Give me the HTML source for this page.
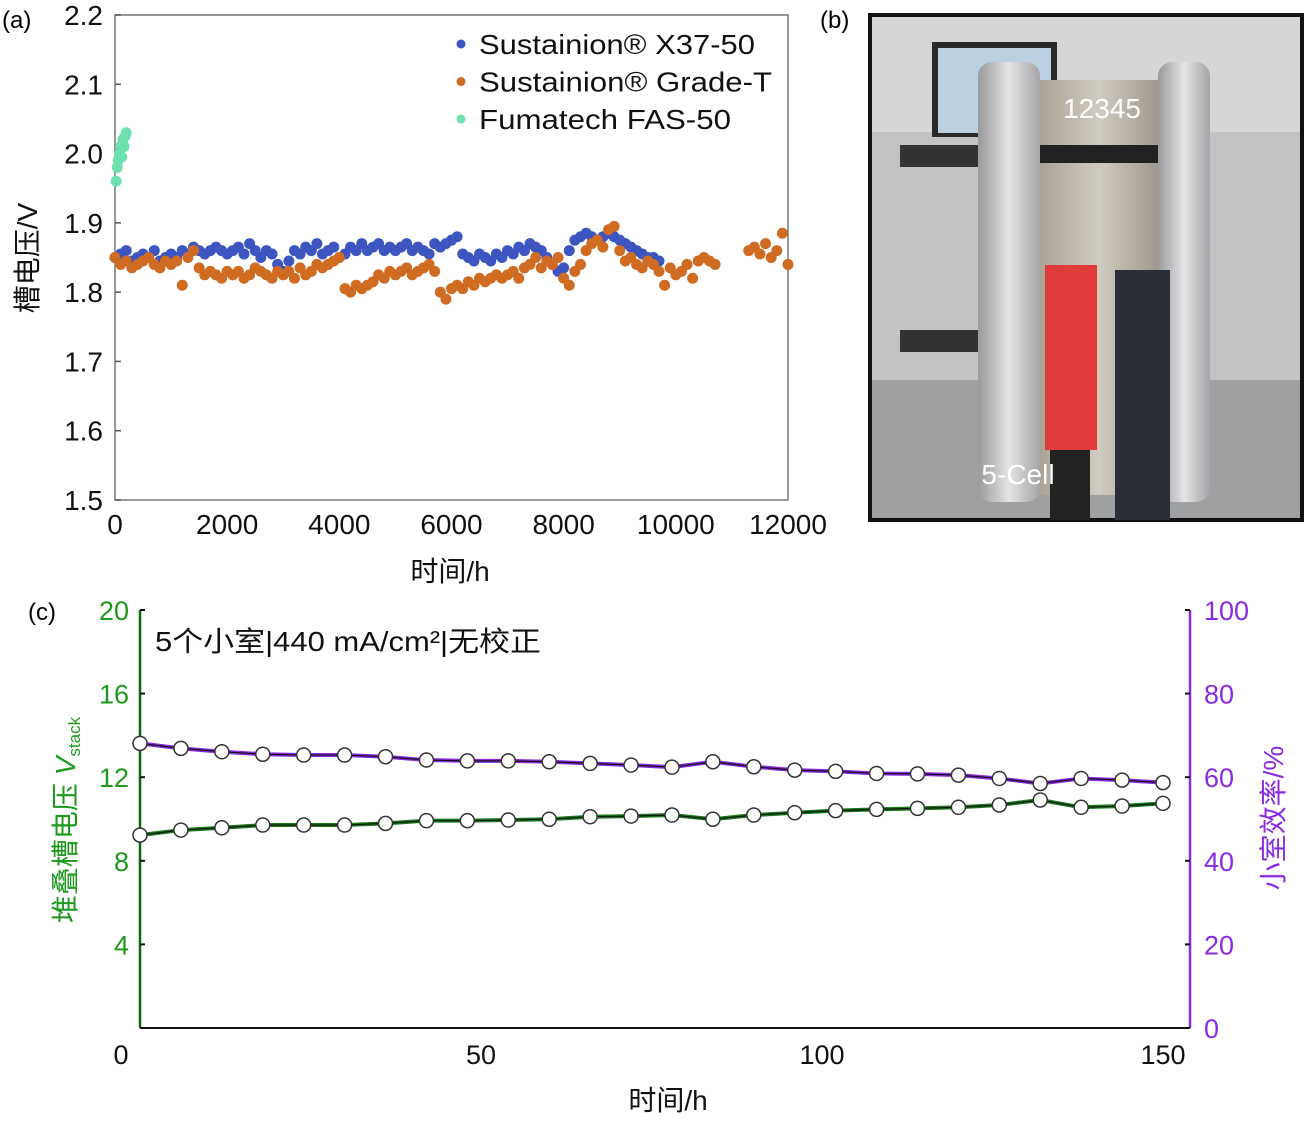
<!DOCTYPE html>
<html><head><meta charset="utf-8"><style>
html,body{margin:0;padding:0;background:#fff;}
svg{display:block;font-family:"Liberation Sans","Noto Sans CJK SC",sans-serif;}
</style></head><body>
<svg id="root" width="1311" height="1125" viewBox="0 0 1311 1125">
<defs>
<linearGradient id="plateG" x1="0" x2="1" y1="0" y2="0"><stop offset="0" stop-color="#9a9a9c"/><stop offset="0.5" stop-color="#e4e4e6"/><stop offset="1" stop-color="#a5a5a8"/></linearGradient>
<linearGradient id="stackG" x1="0" x2="1" y1="0" y2="0"><stop offset="0" stop-color="#a8a196"/><stop offset="0.5" stop-color="#d0cbc0"/><stop offset="1" stop-color="#9e978c"/></linearGradient>
</defs>
<g id="pa"></g>
<g id="pb">
  <rect x="870" y="15" width="432" height="505" fill="#c2c3c5" stroke="#111" stroke-width="4"/>
  <rect x="872" y="17" width="428" height="115" fill="#d6d6d6"/>
  <rect x="872" y="380" width="428" height="138" fill="#9fa0a2"/>
  <rect x="932" y="42" width="125" height="95" fill="#2a2a2a"/>
  <rect x="938" y="48" width="113" height="85" fill="#bcd0e0"/>
  <rect x="900" y="145" width="90" height="22" fill="#333"/>
  <rect x="900" y="330" width="90" height="22" fill="#333"/>
  <rect x="1038" y="80" width="122" height="415" fill="url(#stackG)"/>
  <rect x="1038" y="145" width="122" height="18" fill="#222"/>
  <rect x="978" y="62" width="62" height="440" rx="14" fill="url(#plateG)"/>
  <rect x="1158" y="62" width="52" height="440" rx="14" fill="url(#plateG)"/>
  <rect x="1045" y="265" width="52" height="185" fill="#e03a3a"/>
  <rect x="1050" y="450" width="40" height="70" fill="#222"/>
  <rect x="1115" y="270" width="55" height="250" fill="#2b2e36"/>
  <text x="1102" y="118" font-size="28" fill="#fff" text-anchor="middle">12345</text>
  <text x="1018" y="484" font-size="28" fill="#fff" text-anchor="middle">5-Cell</text>
</g>
<g id="pc"></g>
<text x="2" y="28" font-size="24">(a)</text>
<text x="820" y="28" font-size="24">(b)</text>
<text x="28" y="620" font-size="24">(c)</text>
</svg>
<script>
// ---- Panel (a) data ----
const blueTimes = Array.from({length:98},(_,i)=>i*100);
const blueValues = [1.85,1.855,1.86,1.845,1.85,1.855,1.85,1.86,1.845,1.85,1.855,
1.85,1.86,1.855,1.865,1.86,1.855,1.86,1.865,1.86,1.855,
1.86,1.865,1.855,1.87,1.86,1.85,1.86,1.855,1.84,1.83,
1.845,1.86,1.855,1.865,1.86,1.87,1.855,1.86,1.865,1.85,
1.855,1.865,1.86,1.87,1.86,1.865,1.87,1.86,1.865,1.86,
1.865,1.87,1.86,1.865,1.86,1.855,1.87,1.865,1.87,1.875,
1.88,1.855,1.85,1.845,1.855,1.85,1.845,1.855,1.85,1.86,
1.855,1.865,1.86,1.87,1.865,1.86,1.85,1.84,1.83,1.835,
1.86,1.875,1.88,1.885,1.88,1.875,1.88,1.885,1.88,1.875,
1.87,1.865,1.86,1.855,1.85,1.85,1.845];
const orangeTimes = Array.from({length:121},(_,i)=>i*100);
const orangeValues = [1.85,1.84,1.845,1.835,1.84,1.845,1.85,1.84,1.835,1.845,1.84,
1.845,1.81,1.85,1.86,1.835,1.825,1.83,1.825,1.82,1.83,
1.825,1.83,1.82,1.825,1.835,1.83,1.825,1.82,1.83,1.825,
1.83,1.82,1.835,1.825,1.83,1.84,1.835,1.84,1.845,1.85,
1.805,1.80,1.81,1.805,1.81,1.815,1.825,1.82,1.83,1.825,
1.83,1.835,1.825,1.83,1.835,1.84,1.83,1.80,1.79,1.805,
1.81,1.805,1.815,1.81,1.82,1.815,1.82,1.825,1.82,1.825,
1.83,1.82,1.835,1.84,1.85,1.835,1.845,1.84,1.85,1.82,
1.81,1.83,1.84,1.86,1.87,1.875,1.865,1.89,1.895,1.86,
1.845,1.85,1.84,1.835,1.845,1.84,1.83,1.81,1.835,1.825,
1.83,1.84,1.82,1.845,1.85,1.845,1.84,null,null,null,
null,null,1.86,1.865,1.855,1.87,1.85,1.86,1.885,1.84];
const greenTimes = [20,40,60,80,100,120,140,160,180,200];
const greenValues = [1.96,1.98,1.99,2.00,2.01,1.995,2.02,2.01,2.025,2.03];
const aXTicks = [0,2000,4000,6000,8000,10000,12000];
const aYTicks = [1.5,1.6,1.7,1.8,1.9,2.0,2.1,2.2];
const aYTickLabels = ["1.5","1.6","1.7","1.8","1.9","2.0","2.1","2.2"];
const legendLabels = ["Sustainion® X37-50","Sustainion® Grade-T","Fumatech FAS-50"];

// ---- Panel (c) data ----
const cTimes = [0,6,12,18,24,30,36,42,48,54,60,66,72,78,84,90,96,102,108,114,120,126,132,138,144,150];
const stackVoltage = [9.23,9.47,9.58,9.71,9.71,9.71,9.79,9.92,9.92,9.95,9.99,10.11,10.14,10.19,9.99,10.19,10.30,10.40,10.46,10.51,10.56,10.67,10.91,10.56,10.62,10.75];
const cellEfficiency = [68.1,66.9,66.1,65.5,65.3,65.3,64.9,64.1,63.9,63.9,63.7,63.3,62.9,62.4,63.7,62.5,61.7,61.4,60.9,60.8,60.5,59.7,58.5,59.7,59.3,58.7];
const cXTicks = [0,50,100,150];
const cLeftTicks = [0,4,8,12,16,20];
const cRightTicks = [0,20,40,60,80,100];

const NS="http://www.w3.org/2000/svg";
function mk(parent,tag,attrs,text){const e=document.createElementNS(NS,tag);for(const k in attrs)e.setAttribute(k,attrs[k]);if(text!==undefined)e.textContent=text;parent.appendChild(e);return e;}

// Panel a
const pa=document.getElementById('pa');
const ax0=115,ax1=788,ay0=500,ay1=15;
const axX=t=>ax0+(t-0)/12000*(ax1-ax0);
const axY=v=>ay0-(v-1.5)/0.7*(ay0-ay1);
let fr=mk(pa,'rect',{x:ax0,y:ay1,width:ax1-ax0,height:ay0-ay1,fill:'#fff',stroke:'#777','stroke-width':1.5});


aYTicks.forEach((v,i)=>{
  let l=mk(pa,'line',{x1:ax0,x2:ax0+6,y1:axY(v),y2:axY(v),stroke:'#555','stroke-width':1.5});
  
  
  let t=mk(pa,'text',{x:103,y:axY(v)+10,'font-size':28,'text-anchor':'end',fill:'#111'},aYTickLabels[i]);
  
  
});
aXTicks.forEach(v=>{
  let t=mk(pa,'text',{x:axX(v),y:534,'font-size':28,'text-anchor':'middle',fill:'#111'},String(v));
  
  
});
function scatter(times,vals,color,name){
  times.forEach((t,i)=>{const v=vals[i];if(v===null||v===undefined)return;
    let c=mk(pa,'circle',{cx:axX(t),cy:axY(v),r:5.5,fill:color});
    
    
  });
}
scatter(blueTimes,blueValues,'#3d55c0','x37-50-point');
scatter(orangeTimes,orangeValues,'#d06b22','grade-t-point');
scatter(greenTimes,greenValues,'#6fe0b0','fas-50-point');
const legCols=['#3d55c0','#d06b22','#6fe0b0'];
legendLabels.forEach((s,i)=>{
  const y=44+i*37.5;
  let c=mk(pa,'circle',{cx:461,cy:y,r:4.5,fill:legCols[i]});
  
  
  let t=mk(pa,'text',{x:479,y:y+10,'font-size':28,fill:'#111',textLength:[276,293,252][i],lengthAdjust:'spacingAndGlyphs'},s);
  
  
});
let yt=mk(pa,'text',{x:37,y:258,'font-size':28,'text-anchor':'middle',transform:'rotate(-90 37 258)',fill:'#111'},'槽电压/V');


let xt=mk(pa,'text',{x:450,y:581,'font-size':28,'text-anchor':'middle',fill:'#111'},'时间/h');



// Panel c
const pc=document.getElementById('pc');
const cx0=140,cx1=1190,cy0=1028,cy1=610;
const cX=t=>cx0+t/50*341;
const cYL=v=>cy0-v/20*(cy0-cy1);
const cYR=v=>cy0-v/100*(cy0-cy1);
const GREEN='#1d9a1d',PURP='#8a2be2';
let ln;
ln=mk(pc,'line',{x1:cx0,x2:cx0,y1:cy1,y2:cy0,stroke:'#0a6a0a','stroke-width':2.5});


ln=mk(pc,'line',{x1:cx1,x2:cx1,y1:cy1,y2:cy0,stroke:PURP,'stroke-width':2.5});


ln=mk(pc,'line',{x1:cx0,x2:cx1,y1:cy0,y2:cy0,stroke:'#111','stroke-width':2});


cLeftTicks.forEach(v=>{
  let l=mk(pc,'line',{x1:cx0,x2:cx0+5,y1:cYL(v),y2:cYL(v),stroke:'#111','stroke-width':2});
  
  
  if(v===0)return;
  let t=mk(pc,'text',{x:129,y:cYL(v)+10,'font-size':27,'text-anchor':'end',fill:GREEN},String(v));
  
  
});
cRightTicks.forEach(v=>{
  let l=mk(pc,'line',{x1:cx1-5,x2:cx1,y1:cYR(v),y2:cYR(v),stroke:'#111','stroke-width':2});
  
  
  let t=mk(pc,'text',{x:1204,y:cYR(v)+10,'font-size':27,fill:PURP},String(v));
  
  
});
cXTicks.forEach(v=>{
  let t=mk(pc,'text',{x:v===0?121:cX(v),y:1064,'font-size':27,'text-anchor':'middle',fill:'#111'},String(v));
  
  
});
function series(vals,yf,color,name){
  const pts=cTimes.map((t,i)=>cX(t)+','+yf(vals[i])).join(' ');
  let p=mk(pc,'polyline',{points:pts,fill:'none',stroke:color,'stroke-width':4});
  
  
  let p2=mk(pc,'polyline',{points:pts,fill:'none',stroke:'#111','stroke-width':1.2});
  
  
  cTimes.forEach((t,i)=>{
    let c=mk(pc,'circle',{cx:cX(t),cy:yf(vals[i]),r:7,fill:'#fff',stroke:'#333','stroke-width':1.5});
    
    
  });
}
series(stackVoltage,cYL,'#1a7a1a','stack-voltage');
series(cellEfficiency,cYR,PURP,'cell-efficiency');
let ann=mk(pc,'text',{x:155,y:651,'font-size':28,fill:'#111',textLength:386,lengthAdjust:'spacingAndGlyphs'},'5个小室|440 mA/cm²|无校正');


let lt=mk(pc,'text',{x:75,y:820,'font-size':28,'text-anchor':'middle',transform:'rotate(-90 75 820)',fill:GREEN});


mk(lt,'tspan',{},'堆叠槽电压 ');
mk(lt,'tspan',{'font-style':'italic'},'V');
mk(lt,'tspan',{'font-size':17,dy:5},'stack');
let rt=mk(pc,'text',{x:1283,y:818,'font-size':28,'text-anchor':'middle',transform:'rotate(-90 1283 818)',fill:PURP},'小室效率/%');


let cxt=mk(pc,'text',{x:668,y:1110,'font-size':28,'text-anchor':'middle',fill:'#111'},'时间/h');


</script>
</body></html>
